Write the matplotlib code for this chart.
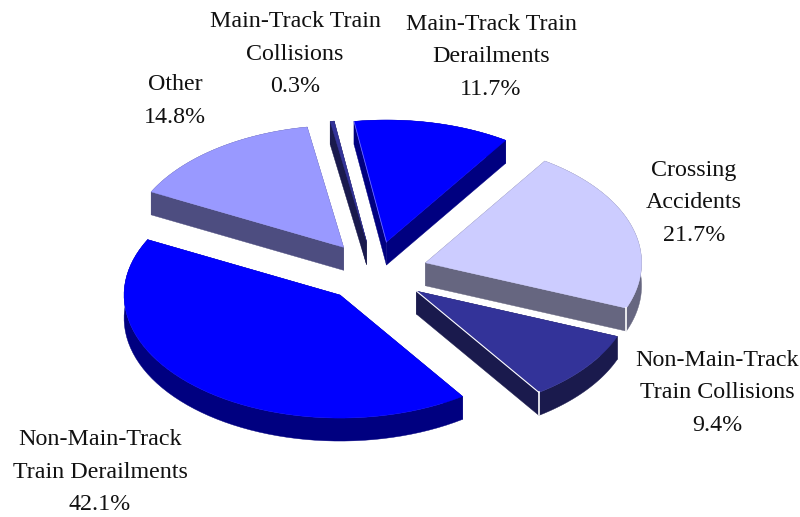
import numpy as np
import matplotlib
matplotlib.use("Agg")
from matplotlib import pyplot as plt
from matplotlib.patches import Polygon

plt.rcParams['font.family'] = ['Liberation Serif', 'DejaVu Serif']

# accident shares, clockwise from the first slice
labels = ["Main-Track Train\nCollisions", "Main-Track Train\nDerailments", "Crossing\nAccidents",
          "Non-Main-Track\nTrain Collisions", "Non-Main-Track\nTrain Derailments", "Other"]
shares = [0.3, 11.7, 21.7, 9.4, 42.1, 14.8]
top_colors = ["#333399", "#0000FF", "#CCCCFF", "#333399", "#0000FF", "#9999FF"]
side_colors = ["#1A1A4D", "#000080", "#666680", "#1A1A4D", "#000080", "#4D4D80"]
label_pos = [(295, 54), (491, 57), (694, 203), (717, 393), (100, 472), (175, 101)]

# pie geometry in pixels
cx, cy = 375, 272
rx = 216
ry_explode = 125
ry_front = 123
ry_back = 122  # far half of the rim reads a little flatter
depth = 23
explode = 53
start = 350.3


def point(x0, y0, ang, rxx, ryy, ryy_back):
    a = np.radians(ang)
    c = np.cos(a)
    return x0 + rxx * np.sin(a), y0 - np.where(c > 0, ryy_back, ryy) * c


fig = plt.figure(figsize=(8, 5.17), dpi=100)
ax = fig.add_axes([0, 0, 1, 1])
ax.set_xlim(0, 800)
ax.set_ylim(517, 0)
ax.axis("off")

# work out the wedges first so they can be painted back to front
wedges = []
ang = start
for i, s in enumerate(shares):
    span = s * 3.6
    mid = ang + span / 2
    k = explode / rx
    ox, oy = point(cx, cy, mid, explode, ry_explode * k, ry_explode * k)
    arc = np.linspace(ang, ang + span, 60)
    ex, ey = point(ox, oy, arc, rx, ry_front, ry_back)
    wedges.append((oy, i, np.array([ox, oy]), np.column_stack([ex, ey])))
    ang += span

for oy, i, apex, rim in sorted(wedges, key=lambda w: w[0]):
    down = np.array([0, depth])
    side = side_colors[i]
    # cut faces and rim band, the top face hides whatever is behind it
    for end in (rim[0], rim[-1]):
        ax.add_patch(Polygon([apex, end, end + down, apex + down], closed=True, fc=side, ec=side, lw=0.3))
    ax.add_patch(Polygon(np.vstack([rim, (rim + down)[::-1]]), closed=True, fc=side, ec=side, lw=0.3))
    ax.add_patch(Polygon(np.vstack([apex, rim]), closed=True, fc=top_colors[i], ec=top_colors[i], lw=0.3))
    # thin highlight at the front corner of a slice
    corner = rim[-1]
    if i in (2, 3):
        ax.plot([corner[0], corner[0]], [corner[1], corner[1] + depth], color="white", lw=1.2)
    if i == 3:
        ax.plot([apex[0], corner[0]], [apex[1], corner[1]], color="white", lw=0.8)
    if i == 1:
        ax.plot([apex[0], rim[0][0]], [apex[1], rim[0][1]], color="#6666FF", lw=0.6)

for name, s, pos in zip(labels, shares, label_pos):
    ax.text(pos[0], pos[1], "%s\n%.1f%%" % (name, s), ha="center", va="center",
            fontsize=17.3, color="#111111", linespacing=1.72)

fig.savefig("out.png", dpi=100)
